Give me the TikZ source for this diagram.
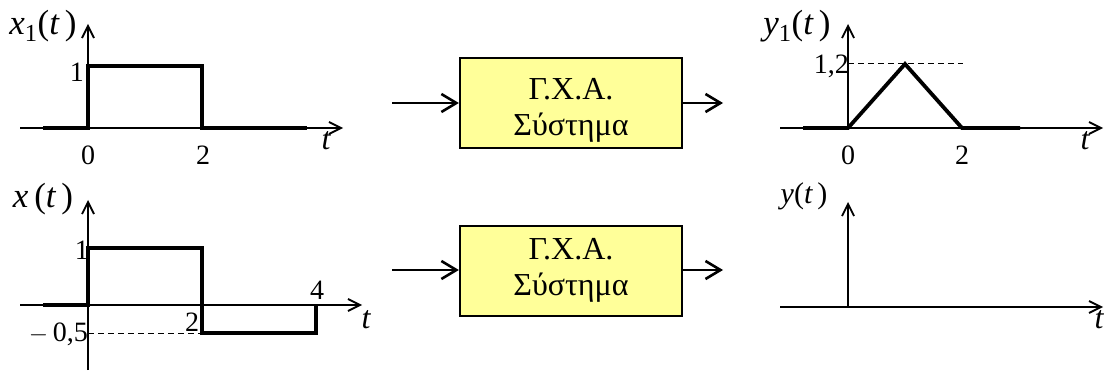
\documentclass[tikz,border=0pt]{standalone}
\usepackage{fontspec}
\setmainfont{Liberation Serif}
\usetikzlibrary{arrows.meta}
\tikzset{
  axis/.style={line width=1.8pt,-{Straight Barb[length=12pt,width=12pt,line width=1.8pt]}},
  sig/.style={line width=3.8pt,line cap=butt,line join=miter},
  guide/.style={line width=1pt,dash pattern=on 6pt off 4pt},
  sysbox/.style={draw,line width=2.2pt,fill=sysyellow,minimum width=222pt,minimum height=90pt},
  systext/.style={align=center,inner sep=0pt,font=\fontsize{32}{36}\selectfont},
  flow/.style={line width=2.6pt,-{Straight Barb[length=15pt,width=18pt,line width=2.6pt]}},
  num/.style={font=\fontsize{28}{28}\selectfont,inner sep=0pt},
  fname/.style={font=\fontsize{35}{35}\selectfont,inner sep=0pt},
  tlbl/.style={font=\fontsize{32}{32}\selectfont\itshape,inner sep=0pt}
}
\definecolor{sysyellow}{RGB}{255,255,153}
\begin{document}
\begin{tikzpicture}[x=1pt,y=-1pt]
\useasboundingbox (0,0) rectangle (1105,371);

% ---- x1(t): rectangular pulse of height 1 on [0,2]
\coordinate (ax1l) at (20,128);
\coordinate (ax1r) at (343,128);
\coordinate (ax1o) at (88,128);
\coordinate (ax1t) at (88,24);
\draw[axis] (ax1l) -- (ax1r);
\draw[axis] (ax1o) -- (ax1t);
\draw[sig] (43,128) -- (88,128) -- (88,66) -- (202,66) -- (202,128) -- (307,128);
\node[num,anchor=east] (one1) at (84,72) {1};
\node[num] (zero1) at (88,155) {0};
\node[num] (two1) at (203,155) {2};
\node[tlbl] (t1) at (326,141) {t};
\node[fname] (x1lbl) at (43,26) {\textit{x}\textsubscript{1}(\textit{t\,})};

% ---- x(t): +1 on [0,2], -0.5 on [2,4]
\coordinate (ax2l) at (20,305);
\coordinate (ax2r) at (362,305);
\coordinate (ax2b) at (88,370);
\coordinate (ax2t) at (88,200);
\draw[axis] (ax2l) -- (ax2r);
\draw[axis] (ax2b) -- (ax2t);
\draw[guide] (88,333) -- (200,333);
\draw[sig] (43,305) -- (88,305) -- (88,248) -- (202,248) -- (202,333) -- (316,333) -- (316,305);
\node[num,anchor=east] (one2) at (89,250) {1};
\node[num,anchor=east] (mhalf) at (88,334) {$-$\,0,5};
\node[num] (two2) at (192,322) {2};
\node[num] (four2) at (317,290) {4};
\node[tlbl] (t2) at (366,320) {t};
\node[fname] (xlbl) at (43,199) {\textit{x\,}(\textit{t\,})};

% ---- LTI system blocks
\node[sysbox] (sys1) at (571,103) {};
\node[systext] (sys1txt) at (571,110) {Γ.Χ.Α.\\Σύστημα};
\coordinate (in1) at (392,103);
\coordinate (out1) at (723,103);
\draw[flow] (in1) -- (sys1.west);
\draw[flow] (sys1.east) -- (out1);

\node[sysbox] (sys2) at (571,271) {};
\node[systext] (sys2txt) at (571,270) {Γ.Χ.Α.\\Σύστημα};
\coordinate (in2) at (392,270);
\coordinate (out2) at (723,270);
\draw[flow] (in2) -- (sys2.west |- in2);
\draw[flow] (sys2.east |- out2) -- (out2);

% ---- y1(t): triangle of peak 1.2 at t=1
\coordinate (ay1l) at (780,128);
\coordinate (ay1r) at (1103,128);
\coordinate (ay1o) at (848,128);
\coordinate (ay1t) at (848,24);
\draw[axis] (ay1l) -- (ay1r);
\draw[axis] (ay1o) -- (ay1t);
\draw[guide] (848,64) -- (963,64);
\draw[sig] (803,128) -- (848,128) -- (905,64) -- (962,128) -- (1020,128);
\node[num,anchor=east] (peak) at (849,66) {1,2};
\node[num] (zero3) at (848,155) {0};
\node[num] (two3) at (962,155) {2};
\node[tlbl] (t3) at (1085,141) {t};
\node[fname] (y1lbl) at (797,26) {\textit{y}\textsubscript{1}(\textit{t\,})};

% ---- y(t): empty axes
\coordinate (ay2l) at (780,307);
\coordinate (ay2r) at (1103,307);
\coordinate (ay2o) at (848,307);
\coordinate (ay2t) at (848,202);
\draw[axis] (ay2l) -- (ay2r);
\draw[axis] (ay2o) -- (ay2t);
\node[tlbl] (t4) at (1099,320) {t};
\node[font=\fontsize{30}{30}\selectfont,inner sep=0pt] (ylbl) at (804,196) {\textit{y}(\textit{t\,})};
\end{tikzpicture}
\end{document}
